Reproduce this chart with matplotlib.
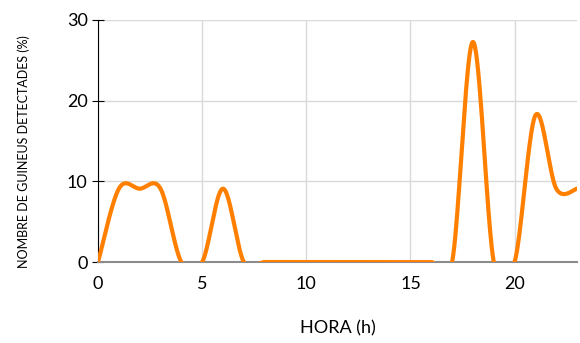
import numpy as np
import matplotlib.pyplot as plt

plt.rcParams['font.family'] = ['Lato', 'DejaVu Sans']

# detections per hour, as % of the total (11 birds)
hours = list(range(24))
pct = [0, 9.09, 9.09, 9.09, 0, 0, 9.09, 0, 0, 0, 0, 0, 0, 0, 0, 0, 0, 0,
       27.27, 0, 0, 18.18, 9.09, 9.09]
x_ticks = [0, 5, 10, 15, 20]
y_ticks = [0, 10, 20, 30]


def smooth(x, y, n=40):
    # Catmull-Rom curve through the points (spreadsheet-style smoothed line)
    x = np.asarray(x, float)
    y = np.asarray(y, float)
    xp = np.concatenate([[x[0]], x, [x[-1]]])
    yp = np.concatenate([[y[0]], y, [y[-1]]])
    xs, ys = [], []
    t = np.linspace(0, 1, n)
    for i in range(1, len(xp) - 2):
        p0x, p1x, p2x, p3x = xp[i - 1:i + 3]
        p0y, p1y, p2y, p3y = yp[i - 1:i + 3]
        c1x, c1y = p1x + (p2x - p0x) / 6, p1y + (p2y - p0y) / 6
        c2x, c2y = p2x - (p3x - p1x) / 6, p2y - (p3y - p1y) / 6
        b0 = (1 - t) ** 3
        b1 = 3 * (1 - t) ** 2 * t
        b2 = 3 * (1 - t) * t ** 2
        b3 = t ** 3
        xs.append(b0 * p1x + b1 * c1x + b2 * c2x + b3 * p2x)
        ys.append(b0 * p1y + b1 * c1y + b2 * c2y + b3 * p2y)
    return np.concatenate(xs), np.concatenate(ys)


fig = plt.figure(figsize=(5.8, 3.43), dpi=100)
ax = fig.add_axes([0.169, 0.236, 0.826, 0.706])

sx, sy = smooth(hours, pct)
ax.plot(sx, sy, color='#ff8000', lw=3, zorder=4, solid_capstyle='round')

ax.set_xlim(0, 23)
ax.set_ylim(0, 30)
ax.set_xticks(x_ticks)
ax.set_yticks(y_ticks)
ax.grid(True, color='#d9d9d9', lw=1)
ax.set_axisbelow(True)

for s in ['top', 'right']:
    ax.spines[s].set_visible(False)
ax.spines['left'].set_color('black')
ax.spines['left'].set_linewidth(0.8)
ax.spines['bottom'].set_color('#8c8c8c')
ax.spines['bottom'].set_linewidth(1.5)

ax.tick_params(axis='y', direction='inout', length=9, width=0.8, labelsize=13, pad=3)
ax.tick_params(axis='x', length=0, labelsize=13, pad=10)

ax.set_ylabel('NOMBRE DE GUINEUS DETECTADES (%)', fontsize=9)
ax.yaxis.set_label_coords(-0.155, 0.455)
ax.set_xlabel('HORA (h)', fontsize=13)
ax.xaxis.set_label_coords(0.5, -0.273)
ax.xaxis.label.set_va('center')
ax.yaxis.label.set_va('center')

fig.savefig('out.png', dpi=100)
